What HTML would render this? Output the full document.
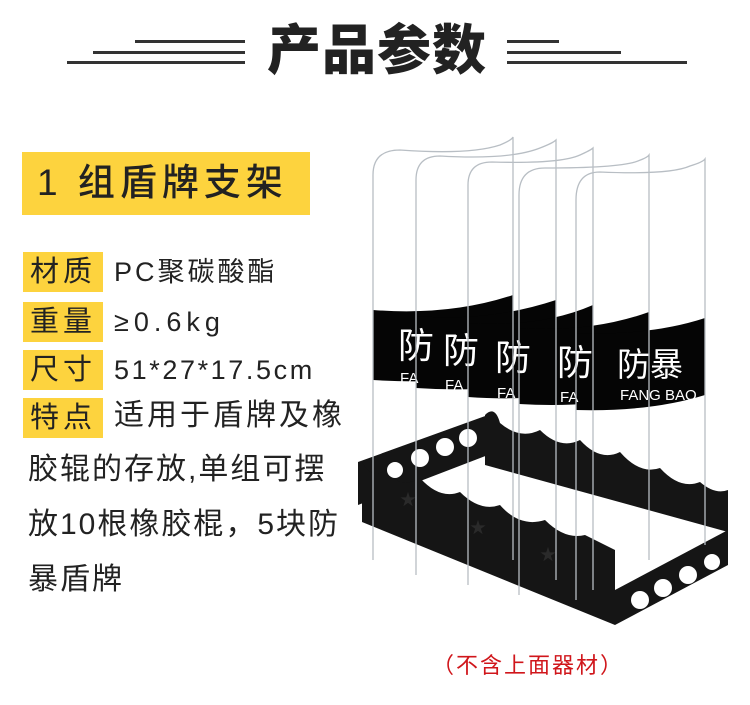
<!DOCTYPE html>
<html><head><meta charset="utf-8"><style>
html,body{margin:0;padding:0;background:#fff;}
body{width:750px;height:705px;position:relative;overflow:hidden;font-family:"Liberation Sans","Noto Sans CJK SC",sans-serif;color:#222;}
.abs{position:absolute;}
.ln{position:absolute;height:3px;background:#333;}
.title{position:absolute;left:262px;top:14px;width:230px;text-align:center;font-size:54px;font-weight:900;line-height:64px;letter-spacing:1px;color:#222;font-family:"Noto Sans CJK SC",sans-serif;}
.yb{position:absolute;background:#fdd33e;}
.lab{position:absolute;left:23px;width:80px;height:40px;background:#fdd33e;font-size:29px;line-height:40px;text-align:center;letter-spacing:4px;color:#222;}
.val{position:absolute;left:114px;font-size:27px;line-height:40px;color:#222;}
.p{position:absolute;left:28px;font-size:30px;line-height:55px;color:#222;letter-spacing:2px;}
</style></head><body>
<div class="ln" style="left:135px;top:40px;width:110px"></div>
<div class="ln" style="left:93px;top:51px;width:152px"></div>
<div class="ln" style="left:67px;top:61px;width:178px"></div>
<div class="ln" style="left:507px;top:40px;width:52px"></div>
<div class="ln" style="left:507px;top:51px;width:114px"></div>
<div class="ln" style="left:507px;top:61px;width:180px"></div>
<div class="title">产品参数</div>

<div class="yb" style="left:22px;top:152px;width:288px;height:63px"></div>
<div class="abs" style="left:37px;top:154px;font-size:37px;line-height:58px;font-weight:500;letter-spacing:5px">1 组盾牌支架</div>

<div class="lab" style="top:252px">材质</div><div class="val" style="top:252px;letter-spacing:3px">PC聚碳酸酯</div>
<div class="lab" style="top:302px">重量</div><div class="val" style="top:302px;letter-spacing:5px">≥0.6kg</div>
<div class="lab" style="top:350px">尺寸</div><div class="val" style="top:350px;letter-spacing:2.6px">51*27*17.5cm</div>
<div class="lab" style="top:398px">特点</div><div class="val" style="top:396px;font-size:30px;letter-spacing:3px">适用于盾牌及橡</div>
<div class="p" style="top:442px">胶辊的存放,单组可摆</div>
<div class="p" style="top:497px">放10根橡胶棍，5块防</div>
<div class="p" style="top:552px">暴盾牌</div>

<svg class="abs" style="left:0;top:0" width="750" height="705" viewBox="0 0 750 705">
 <g fill="#050505">
  <path d="M373,310 Q450,316 513,295 L513,372 Q450,385 373,380 Z"/>
  <path d="M416,316 Q490,322 556,300 L556,380 Q490,393 416,388 Z"/>
  <path d="M468,323 Q540,328 593,305 L593,388 Q540,402 468,397 Z"/>
  <path d="M519,328 Q590,333 649,312 L649,395 Q590,408 519,404 Z"/>
  <path d="M576,333 Q650,336 705,318 L705,395 Q650,412 576,410 Z"/>
 </g>
 <g fill="#fff" font-family="'Liberation Sans','Noto Sans CJK SC',sans-serif">
  <text x="398" y="358" font-size="36">防</text><text x="400" y="383" font-size="15">FA</text>
  <text x="443" y="363" font-size="36">防</text><text x="445" y="390" font-size="15">FA</text>
  <text x="495" y="370" font-size="36">防</text><text x="497" y="398" font-size="15">FA</text>
  <text x="557" y="375" font-size="36">防</text><text x="560" y="402" font-size="15">FA</text>
  <text x="617" y="376" font-size="33">防暴</text><text x="620" y="400" font-size="15">FANG BAO</text>
 </g>
 <g fill="#151515">
  <path d="M485,415 Q495,405 500,423 Q520,440 540,430 Q560,450 580,440 Q600,462 620,452 Q640,475 660,468 Q680,490 700,482 Q715,495 728,490 L728,532 L485,465 Z"/>
  <path d="M358,462 L488,415 L488,455 L358,505 Z"/>
  <path d="M615,590 L728,530 L728,565 L615,625 Z"/>
  <path d="M362,462 Q372,480 385,470 Q400,490 420,478 Q440,500 460,492 Q480,512 500,505 Q520,528 545,520 Q565,540 585,535 L615,550 L615,625 L362,522 Z"/>
 </g>
 <g fill="#fff">
  <circle cx="395" cy="470" r="8"/><circle cx="420" cy="458" r="9"/><circle cx="445" cy="447" r="9"/><circle cx="468" cy="438" r="9"/>
  <circle cx="640" cy="600" r="9"/><circle cx="663" cy="588" r="9"/><circle cx="688" cy="575" r="9"/><circle cx="712" cy="562" r="8"/>
 </g>
 <g fill="#2a2a2a">
  <text x="400" y="505" font-size="16">★</text><text x="470" y="533" font-size="16">★</text><text x="540" y="560" font-size="16">★</text>
 </g>
 <g fill="none" stroke="#b8bec4" stroke-width="1.3">
  <path d="M373,560 L373,175 Q373,150 400,150 Q470,155 500,145 Q512,140 513,137 L513,560"/>
  <path d="M416,575 L416,180 Q416,156 440,156 Q510,160 540,148 Q553,143 556,140 L556,580"/>
  <path d="M468,585 L468,185 Q468,162 492,162 Q560,164 580,155 Q591,150 593,148 L593,590"/>
  <path d="M519,595 L519,195 Q519,168 545,168 Q615,168 635,162 Q647,158 649,155 L649,560"/>
  <path d="M576,600 L576,200 Q576,172 600,172 Q670,175 690,166 Q703,162 705,159 L705,545"/>
 </g>
</svg>

<div class="abs" style="left:432px;top:651px;font-size:22px;line-height:30px;color:#d0161b;letter-spacing:2px">（不含上面器材）</div>
</body></html>
